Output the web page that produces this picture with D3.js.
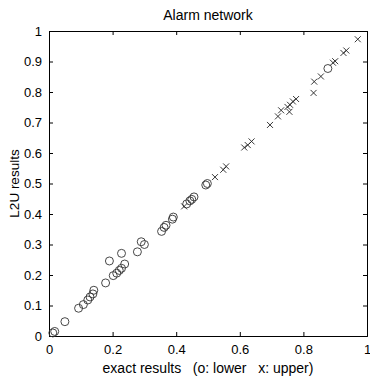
<!DOCTYPE html>
<html>
<head>
<meta charset="utf-8">
<script src="https://cdn.jsdelivr.net/npm/d3@7"></script>
<style>
  body { margin: 0; background: #fff; }
  svg text { font-family: "Liberation Sans", Arial, sans-serif; fill: #000; }
</style>
</head>
<body>
<div id="chart"></div>
<script>
// lower bounds (circles): [exact, L2U]
const lowerPoints = [
  [0.012, 0.010], [0.018, 0.015], [0.050, 0.047], [0.093, 0.091], [0.108, 0.103],
  [0.122, 0.118], [0.129, 0.128], [0.138, 0.138], [0.141, 0.150], [0.178, 0.174],
  [0.190, 0.246], [0.202, 0.198], [0.213, 0.206], [0.221, 0.215], [0.228, 0.222],
  [0.228, 0.271], [0.238, 0.236], [0.278, 0.276], [0.290, 0.309], [0.300, 0.300],
  [0.354, 0.343], [0.362, 0.356], [0.368, 0.363], [0.388, 0.383], [0.391, 0.390],
  [0.433, 0.433], [0.443, 0.443], [0.449, 0.448], [0.456, 0.456], [0.493, 0.495],
  [0.498, 0.500], [0.877, 0.877]
];
// upper bounds (crosses)
const upperPoints = [
  [0.425, 0.425], [0.522, 0.521], [0.548, 0.545], [0.557, 0.556], [0.614, 0.618],
  [0.625, 0.626], [0.637, 0.638], [0.695, 0.692], [0.720, 0.720], [0.730, 0.740],
  [0.750, 0.751], [0.756, 0.735], [0.758, 0.758], [0.767, 0.769], [0.777, 0.777],
  [0.832, 0.797], [0.834, 0.834], [0.855, 0.851], [0.893, 0.896], [0.900, 0.901],
  [0.926, 0.928], [0.935, 0.936], [0.971, 0.973]
];
const xTicks = [0, 0.2, 0.4, 0.6, 0.8, 1];
const yTicks = [0, 0.1, 0.2, 0.3, 0.4, 0.5, 0.6, 0.7, 0.8, 0.9, 1];

const width = 370, height = 376;
const margin = { top: 31, right: 3, bottom: 40, left: 49 };
const innerW = width - margin.left - margin.right;
const innerH = height - margin.top - margin.bottom;

const svg = d3.select("#chart").append("svg")
  .attr("width", width)
  .attr("height", height);

const g = svg.append("g")
  .attr("transform", "translate(" + margin.left + "," + margin.top + ")");

const x = d3.scaleLinear().domain([0, 1]).range([0, innerW]);
const y = d3.scaleLinear().domain([0, 1]).range([innerH, 0]);

const fmt = d => d === 0 || d === 1 ? String(d) : d3.format(".1f")(d);

// bottom axis with labels, top axis ticks only (inward ticks like matlab)
const axB = g.append("g").attr("transform", "translate(0," + innerH + ")")
  .call(d3.axisBottom(x).tickValues(xTicks).tickFormat(fmt).tickSize(-4).tickPadding(9));
const axT = g.append("g")
  .call(d3.axisTop(x).tickValues(xTicks).tickFormat("").tickSize(-4));
const axL = g.append("g")
  .call(d3.axisLeft(y).tickValues(yTicks).tickFormat(fmt).tickSize(-4).tickPadding(7));
const axR = g.append("g").attr("transform", "translate(" + innerW + ",0)")
  .call(d3.axisRight(y).tickValues(yTicks).tickFormat("").tickSize(-4));

[axB, axT, axL, axR].forEach(a => {
  a.select(".domain").attr("stroke", "#000").attr("stroke-width", 1);
  a.selectAll(".tick line").attr("stroke", "#000");
  a.selectAll("text").style("font-size", "13px")
    .style("font-family", "Liberation Sans, Arial, sans-serif").attr("fill", "#000");
});

// circles
g.selectAll("circle.lower")
  .data(lowerPoints)
  .enter()
  .append("circle")
  .attr("class", "lower")
  .attr("cx", d => x(d[0]))
  .attr("cy", d => y(d[1]))
  .attr("r", 4)
  .attr("fill", "none")
  .attr("stroke", "#333")
  .attr("stroke-width", 0.9);

// crosses
const s = 3;
g.selectAll("path.upper")
  .data(upperPoints)
  .enter()
  .append("path")
  .attr("class", "upper")
  .attr("d", d => {
    const cx = x(d[0]), cy = y(d[1]);
    return "M" + (cx - s) + "," + (cy - s) + "L" + (cx + s) + "," + (cy + s) +
      "M" + (cx - s) + "," + (cy + s) + "L" + (cx + s) + "," + (cy - s);
  })
  .attr("fill", "none")
  .attr("stroke", "#222")
  .attr("stroke-width", 0.9);

// title & labels
svg.append("text")
  .attr("x", margin.left + innerW / 2)
  .attr("y", 20)
  .attr("text-anchor", "middle")
  .style("font-size", "14px")
  .text("Alarm network");

svg.append("text")
  .attr("x", margin.left + innerW / 2)
  .attr("y", 373)
  .attr("text-anchor", "middle")
  .style("font-size", "14px")
  .attr("xml:space", "preserve")
  .style("white-space", "pre")
  .text("exact results   (o: lower   x: upper)");

svg.append("text")
  .attr("transform", "translate(19," + (margin.top + innerH / 2) + ") rotate(-90)")
  .attr("text-anchor", "middle")
  .style("font-size", "13.5px")
  .text("L2U results");
</script>
</body>
</html>
